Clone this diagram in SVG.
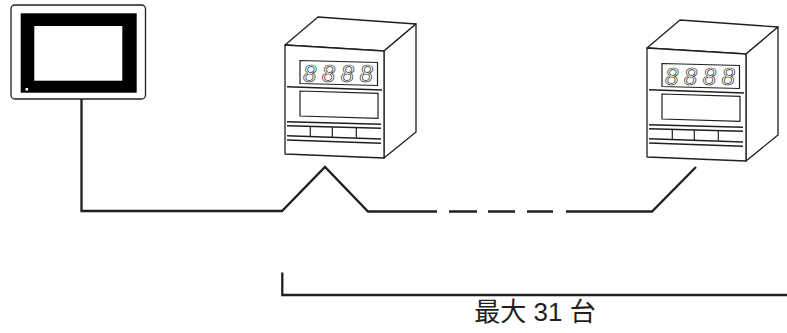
<svg xmlns="http://www.w3.org/2000/svg" width="787" height="333" viewBox="0 0 787 333">
<style>
.e{fill:#fff;stroke:#231f20;stroke-width:1.3;stroke-linejoin:round}
.t{fill:none;stroke:#231f20;stroke-width:1.6}
.d{fill:none;stroke:#231f20;stroke-width:1.2}
.dg{font-family:"Liberation Sans",Arial,sans-serif;font-style:italic;font-size:24px;letter-spacing:5.5px;fill:#fff;stroke:#231f20;stroke-width:0.7;opacity:0.99}
.w{fill:none;stroke:#231f20;stroke-width:2.3;stroke-linejoin:miter}
.lbl{font-family:"Liberation Sans","Noto Sans CJK JP",sans-serif;font-size:26px;fill:#231f20}
</style>
<rect width="787" height="333" fill="#fff"/>
<g id="hmi">
<rect x="11" y="5" width="134.5" height="94" rx="4" class="e"/>
<rect x="20.7" y="13.3" width="116" height="79.4" fill="#000"/>
<rect x="34.3" y="26" width="88" height="54.7" fill="#fff"/>
<rect x="25.5" y="88" width="2.6" height="2.6" fill="#fff"/>
</g>
<g id="device1">
<polygon class="e" points="285,45 318,17 416,24 384,51"/>
<polygon class="e" points="384,51 416,24 416,132 384,158"/>
<polygon class="e" points="285,45 384,51 384,158 285,154"/>
<polygon class="d" points="300,60.5 377.5,62.5 377.5,85.5 300,83.5"/>
<text class="dg" x="303" y="82.4">8888</text>
<line class="t" x1="287" y1="86.7" x2="382" y2="90"/>
<polygon class="d" points="300,91 378,93.3 378,118.3 300,116"/>
<line class="t" x1="287" y1="121.7" x2="381" y2="124.3"/>
<line class="t" x1="287" y1="125.7" x2="381" y2="128.3"/>
<line class="d" x1="310.3" y1="126.3" x2="310.3" y2="136.3"/>
<line class="d" x1="332.3" y1="127" x2="332.3" y2="137"/>
<line class="d" x1="356.3" y1="127.6" x2="356.3" y2="137.6"/>
<line class="t" x1="287" y1="135.7" x2="381" y2="139"/>
<line class="t" x1="287" y1="140" x2="381" y2="143.3"/>
</g>
<g id="device2" transform="translate(362,3)">
<polygon class="e" points="285,45 318,17 416,24 384,51"/>
<polygon class="e" points="384,51 416,24 416,132 384,158"/>
<polygon class="e" points="285,45 384,51 384,158 285,154"/>
<polygon class="d" points="300,60.5 377.5,62.5 377.5,85.5 300,83.5"/>
<text class="dg" x="303" y="82.4">8888</text>
<line class="t" x1="287" y1="86.7" x2="382" y2="90"/>
<polygon class="d" points="300,91 378,93.3 378,118.3 300,116"/>
<line class="t" x1="287" y1="121.7" x2="381" y2="124.3"/>
<line class="t" x1="287" y1="125.7" x2="381" y2="128.3"/>
<line class="d" x1="310.3" y1="126.3" x2="310.3" y2="136.3"/>
<line class="d" x1="332.3" y1="127" x2="332.3" y2="137"/>
<line class="d" x1="356.3" y1="127.6" x2="356.3" y2="137.6"/>
<line class="t" x1="287" y1="135.7" x2="381" y2="139"/>
<line class="t" x1="287" y1="140" x2="381" y2="143.3"/>
</g>
<g id="connectors">
<path class="w" d="M81.5,99 V211 H282 L325,167 L368,211.5 H437"/>
<path class="w" d="M449,211.5 H477 M488,211.5 H515 M527,211.5 H553"/>
<path class="w" d="M566,211.5 H652 L696,167"/>
<path class="w" stroke-width="2" d="M282.3,272.5 V295 H787"/>
</g>
<text class="lbl" x="535" y="321" text-anchor="middle">最大 31 台</text>
</svg>
